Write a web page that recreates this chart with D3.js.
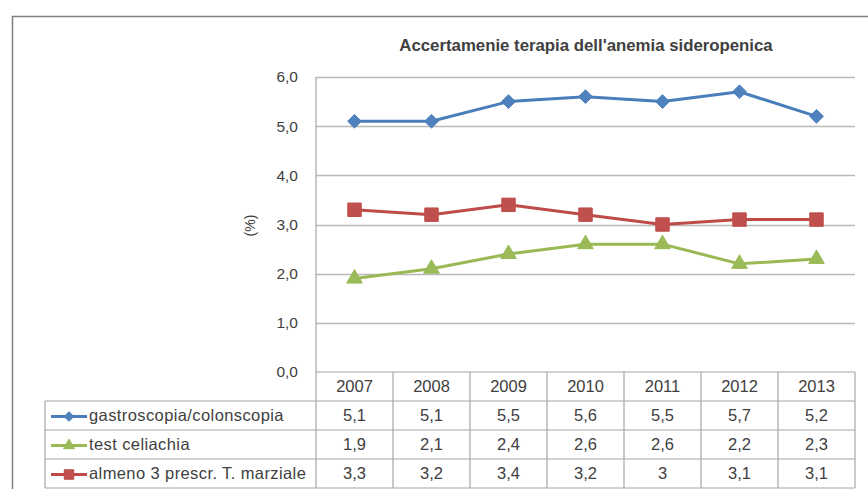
<!DOCTYPE html>
<html><head><meta charset="utf-8">
<script src="https://cdn.jsdelivr.net/npm/d3@7"></script>
<style>
html,body{margin:0;padding:0;background:#fff;}
svg{display:block;}
text{font-family:"Liberation Sans",Arial,sans-serif;fill:#404040;}
</style></head>
<body><svg id="c" width="868" height="489"></svg>
<script>
const title = "Accertamenie terapia dell'anemia sideropenica";
const yAxisLabel = "(%)";
const years = ["2007","2008","2009","2010","2011","2012","2013"];
const seriesNames = ["gastroscopia/colonscopia","test celiachia","almeno 3 prescr. T. marziale"];
const gastroscopia = [5.1,5.1,5.5,5.6,5.5,5.7,5.2];
const celiachia = [1.9,2.1,2.4,2.6,2.6,2.2,2.3];
const marziale = [3.3,3.2,3.4,3.2,3,3.1,3.1];
const yTicks = [0,1,2,3,4,5,6];

const series = [
  {name: seriesNames[0], values: gastroscopia, line: "#4a7ebb", fill: "#4f81bd", shape: d3.symbolDiamond2, size: 120},
  {name: seriesNames[1], values: celiachia, line: "#98b954", fill: "#9bbb59", shape: d3.symbolTriangle, size: 105},
  {name: seriesNames[2], values: marziale, line: "#be4b48", fill: "#c0504d", shape: d3.symbolSquare, size: 180}
];

const svg = d3.select("#c");
const L = 316, R = 855, T = 77, B = 372;
const rowH = 29, tableLeft = 45;

const x = d3.scaleBand().domain(years).range([L, R]);
const y = d3.scaleLinear().domain([0, 6]).range([B, T]);

// outer frame
svg.append("path").attr("d", `M12.5,489 V16.5 H868`).attr("fill","none").attr("stroke","#7f7f7f").attr("stroke-width",1.5);

// gridlines
svg.append("g").selectAll("line").data(yTicks.filter(d=>d>0)).join("line")
  .attr("x1", L).attr("x2", R).attr("y1", d=>Math.round(y(d))+0.5).attr("y2", d=>Math.round(y(d))+0.5)
  .attr("stroke","#b9b9b9").attr("stroke-width",1.3);

// y axis
const ya = svg.append("g").attr("transform",`translate(${L},0)`)
  .call(d3.axisLeft(y).tickValues(yTicks).tickSize(0).tickPadding(18).tickFormat(d=>d3.format(".1f")(d).replace(".",",")));
ya.select(".domain").remove();
ya.selectAll("text").attr("font-size",15.5).attr("fill","#404040").style("font-family","Liberation Sans, Arial, sans-serif");

svg.append("text").attr("transform",`translate(251,${(T+B)/2+1}) rotate(-90)`).attr("text-anchor","middle")
  .attr("dominant-baseline","middle").attr("font-size",14).text(yAxisLabel);

// title
svg.append("text").attr("x",586).attr("y",51).attr("text-anchor","middle").attr("font-size",16.8)
  .attr("font-weight","bold").attr("fill","#262626").text(title);

// table lines
const tg = svg.append("g").attr("stroke","#a6a6a6").attr("stroke-width",1.2);
tg.append("line").attr("x1",L).attr("x2",L).attr("y1",T).attr("y2",B+rowH*4);
tg.append("line").attr("x1",L).attr("x2",R).attr("y1",B).attr("y2",B);
[1,2,3,4].forEach(i=>{
  tg.append("line").attr("x1",tableLeft).attr("x2",R).attr("y1",B+rowH*i).attr("y2",B+rowH*i);
});
years.forEach(yr=>{
  const xe = x(yr)+x.bandwidth();
  tg.append("line").attr("x1",xe).attr("x2",xe).attr("y1",B).attr("y2",B+rowH*4);
});
tg.append("line").attr("x1",tableLeft).attr("x2",tableLeft).attr("y1",B+rowH).attr("y2",B+rowH*4);

// header years
svg.append("g").selectAll("text").data(years).join("text")
  .attr("x", d=>x(d)+x.bandwidth()/2).attr("y", B+rowH/2+1).attr("text-anchor","middle")
  .attr("dominant-baseline","middle").attr("font-size",16.5).text(d=>d);

const fmt = v => String(v).replace(".",",");

// lines and markers
const line = d3.line().x((d,i)=>x(years[i])+x.bandwidth()/2).y(d=>y(d));
series.forEach((s,si)=>{
  svg.append("path").datum(s.values).attr("d",line).attr("fill","none").attr("stroke",s.line)
    .attr("stroke-width",3).attr("stroke-linejoin","round");
  svg.append("g").selectAll("path").data(s.values).join("path")
    .attr("transform",(d,i)=>`translate(${x(years[i])+x.bandwidth()/2},${y(d)})`)
    .attr("d", d3.symbol().type(s.shape).size(s.size)).attr("fill",s.fill).attr("stroke",s.line).attr("stroke-width",1);

  const ry = B + rowH*(si+1) + rowH/2 + 1;
  svg.append("line").attr("x1",51).attr("x2",87).attr("y1",ry).attr("y2",ry).attr("stroke",s.line).attr("stroke-width",3);
  svg.append("path").attr("transform",`translate(69,${ry})`).attr("d", d3.symbol().type(s.shape).size(s.size*0.5))
    .attr("fill",s.fill).attr("stroke",s.line);
  svg.append("text").attr("x",89).attr("y",ry).attr("dominant-baseline","middle").attr("font-size",16.5)
    .attr("letter-spacing",0.4).text(s.name);
  svg.append("g").selectAll("text").data(s.values).join("text")
    .attr("x",(d,i)=>x(years[i])+x.bandwidth()/2).attr("y",ry).attr("text-anchor","middle")
    .attr("dominant-baseline","middle").attr("font-size",16.5).text(d=>fmt(d));
});
</script></body></html>
